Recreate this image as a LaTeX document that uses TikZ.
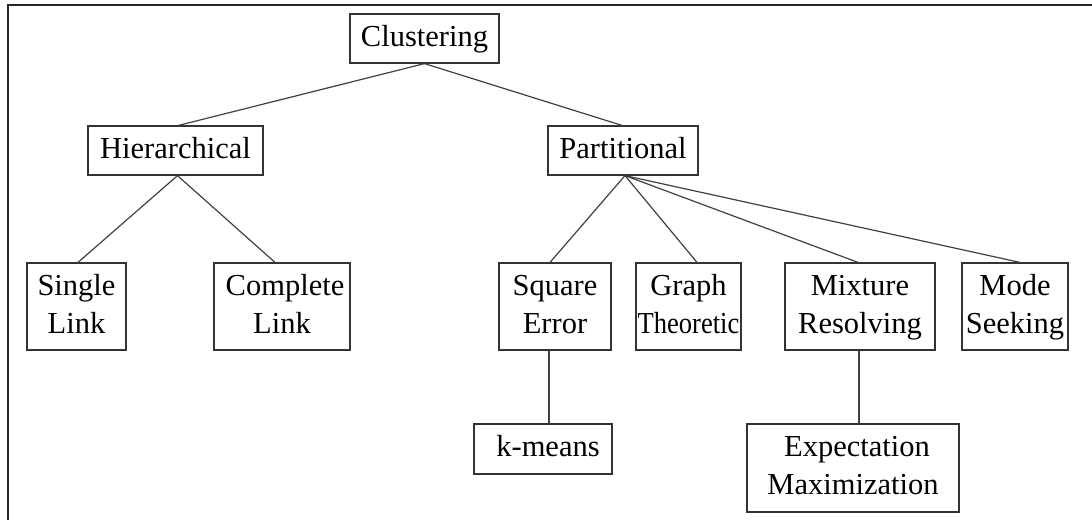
\documentclass[tikz,border=0pt]{standalone}
\usepackage{fontspec}
\usepackage{graphicx}
\setmainfont{Liberation Serif}
\newcommand\twoline[2]{\strut#1\\\strut#2}
\begin{document}
\begin{tikzpicture}[x=1pt,y=-1pt,
  box/.style={draw=black!80,line width=1.2pt,inner sep=0pt,align=center,
    font=\fontsize{30.5}{38}\selectfont,text=black},
  conn/.style={draw=black!75,line width=1.2pt},
  frame/.style={draw=black!85,line width=2pt}]
\useasboundingbox (0,0) rectangle (1092,520);
\draw[frame] (7.5,520) -- (7.5,4.5) -- (1092,4.5);
\node[box,minimum width=149pt,minimum height=49pt] (clus) at (424.5,38.5) {\strut Clustering};
\node[box,minimum width=175pt,minimum height=49pt] (hier) at (175.5,150.5) {\strut Hierarchical};
\node[box,minimum width=150pt,minimum height=49pt] (part) at (623,150.5) {\strut Partitional};
\node[box,minimum width=99pt,minimum height=87pt] (single) at (76.5,306.5) {\twoline{Single}{Link}};
\node[box,minimum width=136pt,minimum height=87pt] (compl) at (282,306.5) {\twoline{\hspace*{6pt}Complete}{Link}};
\node[box,minimum width=112pt,minimum height=87pt] (square) at (555,306.5) {\twoline{Square}{Error}};
\node[box,minimum width=105pt,minimum height=87pt] (graph) at (688.5,306.5) {\twoline{Graph}{\makebox[102pt]{\scalebox{0.87}[1]{Theoretic}}}};
\node[box,minimum width=150pt,minimum height=87pt] (mix) at (860,306.5) {\twoline{Mixture}{Resolving}};
\node[box,minimum width=106pt,minimum height=87pt] (mode) at (1015,306.5) {\twoline{Mode}{Seeking}};
\node[box,minimum width=138pt,minimum height=50pt] (kmeans) at (543,449) {\strut\hspace*{10pt}k-means};
\node[box,minimum width=212pt,minimum height=88pt] (em) at (853,468) {\twoline{\hspace*{8pt}Expectation}{Maximization}};
\draw[conn] (clus.south) -- ([xshift=3pt]hier.north);
\draw[conn] (clus.south) -- ([xshift=-1pt]part.north);
\draw[conn] ([xshift=2pt]hier.south) -- ([xshift=1.5pt]single.north);
\draw[conn] ([xshift=2pt]hier.south) -- ([xshift=-7pt]compl.north);
\draw[conn] ([xshift=2pt]part.south) -- ([xshift=-5pt]square.north);
\draw[conn] ([xshift=2pt]part.south) -- ([xshift=8.5pt]graph.north);
\draw[conn] ([xshift=2pt]part.south) -- ([xshift=-2pt]mix.north);
\draw[conn] ([xshift=2pt]part.south) -- ([xshift=5pt]mode.north);
\draw[conn] ([xshift=-6pt]square.south) -- ([xshift=6pt]kmeans.north);
\draw[conn] ([xshift=-1pt]mix.south) -- ([xshift=6pt]em.north);
\end{tikzpicture}
\end{document}
